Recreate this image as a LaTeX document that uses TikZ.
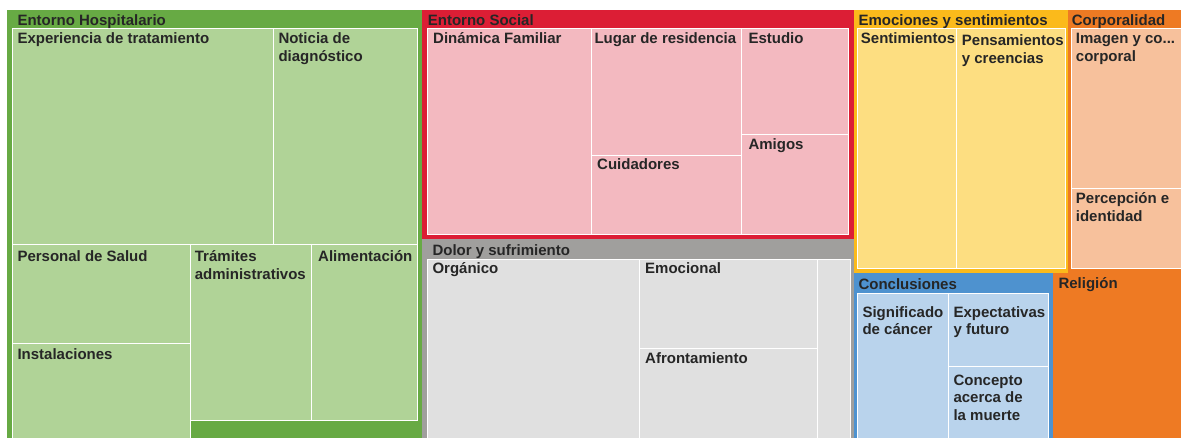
\documentclass[tikz,border=0pt]{standalone}
\usepackage{fontspec}
\setmainfont{Liberation Sans}
\definecolor{gD}{HTML}{67AA44}
\definecolor{gL}{HTML}{B0D397}
\definecolor{rD}{HTML}{DC1E35}
\definecolor{rL}{HTML}{F3B9C0}
\definecolor{kD}{HTML}{A09F9D}
\definecolor{kL}{HTML}{E0E0E0}
\definecolor{yD}{HTML}{FBBA1B}
\definecolor{yL}{HTML}{FDDE81}
\definecolor{oD}{HTML}{EE7A23}
\definecolor{oL}{HTML}{F7C19C}
\definecolor{bD}{HTML}{4E92CF}
\definecolor{bL}{HTML}{B9D3EC}
\definecolor{txt}{HTML}{262626}
\newcommand\mylines[2]{\vtop{\baselineskip=#1\relax\lineskiplimit=-30pt\lineskip=0pt #2}}
\begin{document}
\begin{tikzpicture}[x=1pt,y=-1pt,
  cell/.style={draw=white,line width=1pt},
  lbl/.style={anchor=base west,inner sep=0pt,font=\bfseries\fontsize{15}{18}\selectfont,text=txt}]
\useasboundingbox (0,0) rectangle (1181,438);
\clip (0,0) rectangle (1181,438);
\fill[white] (0,0) rectangle (1181,438);
% ---------- groups
\fill[gD] (7,10) rectangle (422,440);
\fill[rD] (422,10) rectangle (854,238.7);
\fill[kD] (422,238.7) rectangle (854,440);
\fill[yD] (854,10) rectangle (1067.5,273);
\fill[oD] (1067.5,10) rectangle (1185,273);
\fill[bD] (854,273) rectangle (1052.7,440);
\fill[oD] (1052.7,273) rectangle (1185,440);
% ---------- Entorno Hospitalario
\filldraw[cell,fill=gL] (12,28.7) rectangle (273,245);
\filldraw[cell,fill=gL] (273,28.7) rectangle (417,245);
\filldraw[cell,fill=gL] (12,245) rectangle (190,344);
\filldraw[cell,fill=gL] (12,344) rectangle (190,445);
\filldraw[cell,fill=gL] (190,245) rectangle (311,420);
\filldraw[cell,fill=gL] (311,245) rectangle (417,420);
% ---------- Entorno Social
\filldraw[cell,fill=rL] (427,28.7) rectangle (591,234.7);
\filldraw[cell,fill=rL] (591,28.7) rectangle (741,155.7);
\filldraw[cell,fill=rL] (591,155.7) rectangle (741,234.7);
\filldraw[cell,fill=rL] (741,28.7) rectangle (848,134.7);
\filldraw[cell,fill=rL] (741,134.7) rectangle (848,234.7);
% ---------- Dolor y sufrimiento
\filldraw[cell,fill=kL] (427,259.3) rectangle (639,445);
\filldraw[cell,fill=kL] (639,259.3) rectangle (817,348.7);
\filldraw[cell,fill=kL] (639,348.7) rectangle (817,445);
\filldraw[cell,fill=kL] (817,259.3) rectangle (850,445);
% ---------- Emociones y sentimientos
\filldraw[cell,fill=yL] (857.5,28.7) rectangle (956,268.7);
\filldraw[cell,fill=yL] (956,28.7) rectangle (1065,268.7);
% ---------- Corporalidad
\filldraw[cell,fill=oL] (1071.7,28.7) rectangle (1190,188.7);
\filldraw[cell,fill=oL] (1071.7,188.7) rectangle (1190,268.7);
% ---------- Conclusiones
\filldraw[cell,fill=bL] (857.5,293.3) rectangle (948,445);
\filldraw[cell,fill=bL] (948,293.3) rectangle (1048.3,366);
\filldraw[cell,fill=bL] (948,366) rectangle (1048.3,445);
% ---------- labels
\node[lbl] (hHosp) at (17.3,25.5) {Entorno Hospitalario};
\node[lbl] (lExp) at (17.3,43.5) {Experiencia de tratamiento};
\node[lbl] (lNot) at (278.3,43.5) {\mylines{18pt}{\hbox{Noticia de}\hbox{diagnóstico}}};
\node[lbl] (lPer) at (17.3,261.7) {Personal de Salud};
\node[lbl] (lIns) at (17.3,359.3) {Instalaciones};
\node[lbl] (lTra) at (194.7,261.7) {\mylines{18pt}{\hbox{Trámites}\hbox{administrativos}}};
\node[lbl] (lAli) at (318,261.7) {Alimentación};
\node[lbl] (hSoc) at (427.7,25.5) {Entorno Social};
\node[lbl] (lDin) at (433,43.5) {Dinámica Familiar};
\node[lbl] (lLug) at (594.3,43.5) {Lugar de residencia};
\node[lbl] (lEst) at (748.3,43.5) {Estudio};
\node[lbl] (lCui) at (597,170) {Cuidadores};
\node[lbl] (lAmi) at (748.3,149.3) {Amigos};
\node[lbl] (hDol) at (432.3,255.3) {Dolor y sufrimiento};
\node[lbl] (lOrg) at (432.3,273.3) {Orgánico};
\node[lbl] (lEmo) at (645,273.3) {Emocional};
\node[lbl] (lAfr) at (645,363.3) {Afrontamiento};
\node[lbl] (hEmo) at (858.3,25.5) {Emociones y sentimientos};
\node[lbl] (lSen) at (860.7,43.5) {Sentimientos};
\node[lbl] (lPen) at (961.7,45.5) {\mylines{18pt}{\hbox{Pensamientos}\hbox{y creencias}}};
\node[lbl] (hCor) at (1071.7,25.5) {Corporalidad};
\node[lbl] (lIma) at (1075.7,43.5) {\mylines{18pt}{\hbox{Imagen y co...}\hbox{corporal}}};
\node[lbl] (lPcp) at (1075.7,203.3) {\mylines{18pt}{\hbox{Percepción e}\hbox{identidad}}};
\node[lbl] (hCon) at (858.3,289.3) {Conclusiones};
\node[lbl] (lSig) at (862.3,317.3) {\mylines{17.7pt}{\hbox{Significado}\hbox{de cáncer}}};
\node[lbl] (lExpc) at (953.3,317.3) {\mylines{17.7pt}{\hbox{Expectativas}\hbox{y futuro}}};
\node[lbl] (lConc) at (953.3,385) {\mylines{17.5pt}{\hbox{Concepto}\hbox{acerca de}\hbox{la muerte}}};
\node[lbl] (hRel) at (1058.3,288.3) {Religión};
\end{tikzpicture}
\end{document}
